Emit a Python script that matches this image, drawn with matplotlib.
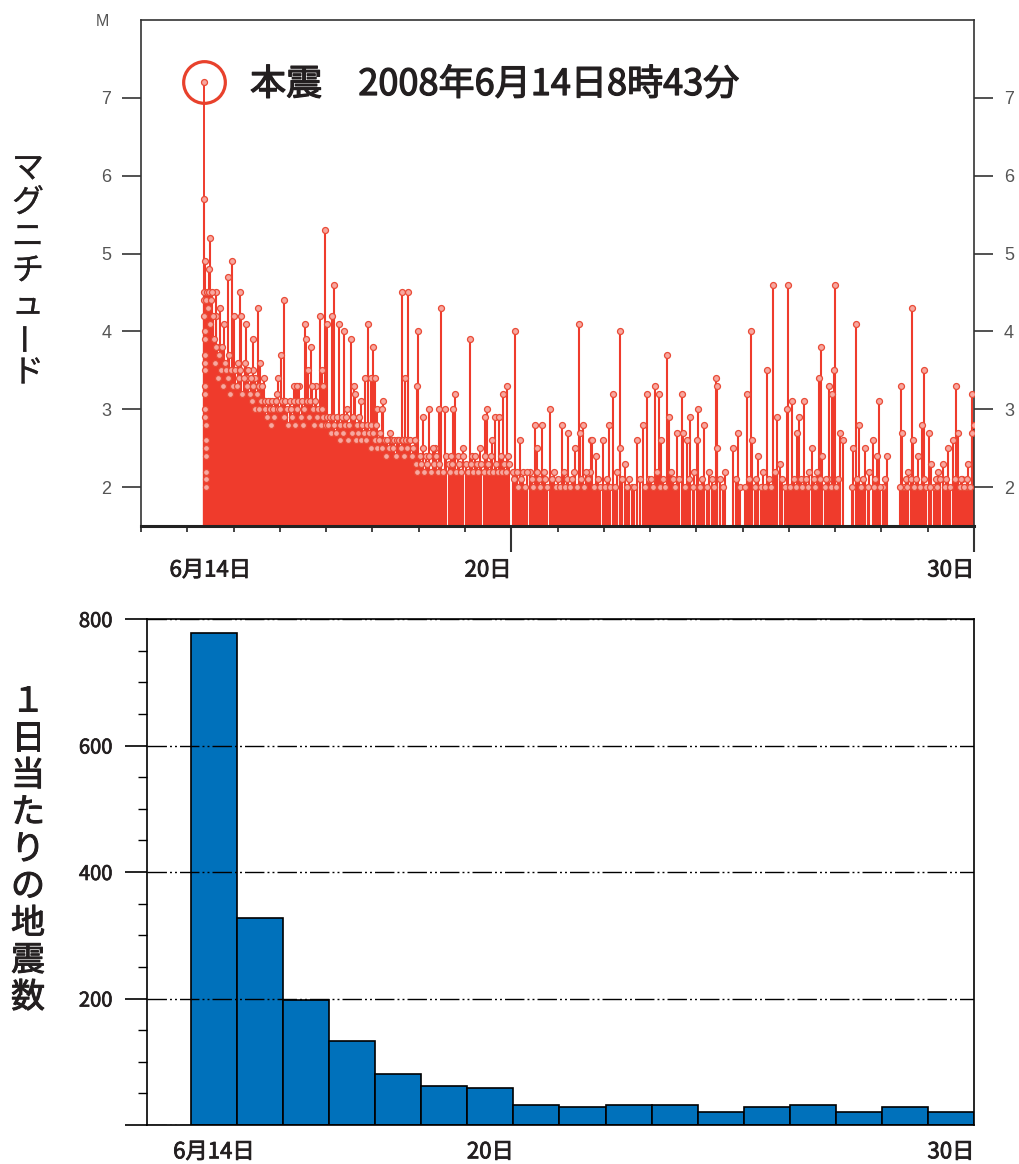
import matplotlib
matplotlib.use("Agg")
import matplotlib.pyplot as plt
import matplotlib.patheffects as pe
from matplotlib.ticker import MultipleLocator, FixedLocator, AutoMinorLocator
from matplotlib.transforms import blended_transform_factory

plt.rcParams['font.family'] = ['Noto Sans CJK JP', 'DejaVu Sans']

# mainshock: 2008-06-14 08:43, M7.2
main_day = 14 + (8 + 43 / 60) / 24
main_mag = 7.2

# aftershocks (day of June, magnitude)
peak_day = [
    14.366, 14.368, 14.371, 14.373, 14.376, 14.378, 14.381, 14.384, 14.386, 14.389,
    14.391, 14.393, 14.396, 14.398, 14.401, 14.403, 14.406, 14.408, 14.411,
    14.37, 14.375, 14.50, 14.48, 14.61, 14.65, 14.71, 14.80, 14.87, 14.97, 14.63,
    15.02, 15.13, 15.17, 15.26, 15.30, 15.41, 15.45, 15.52, 15.58, 15.65, 15.93, 15.95,
    15.42, 15.46, 15.67, 15.78, 15.89,
    16.03, 16.08, 16.36, 16.42, 16.55, 16.56, 16.60, 16.68, 16.86, 16.97, 16.31, 16.38,
    16.78, 16.69, 16.92, 16.93,
    17.03, 17.12, 17.16, 17.27, 17.38, 17.53, 17.61, 17.83, 17.90, 17.46, 17.76, 17.62,
    17.98,
    18.02, 18.24, 18.42, 18.55, 18.65, 18.76, 18.70, 18.91, 18.98, 18.97, 18.11, 18.20,
    18.05,
    19.09, 19.22, 19.35, 19.45, 19.48, 19.56, 19.78, 19.95, 19.74,
    20.10, 20.15, 20.32, 20.47, 20.58, 20.65, 20.73, 20.82, 20.90, 20.43,
    21.08, 21.19, 21.25, 21.40, 21.51, 21.66, 21.84, 21.55,
    22.10, 22.23, 22.38, 22.46, 22.55, 22.70, 22.72, 22.74, 22.83, 22.98, 22.49,
    23.11, 23.20, 23.35, 23.46, 23.61, 23.72, 23.85, 23.94, 23.36,
    24.11, 24.19, 24.24, 24.37, 24.41, 24.58, 24.69, 24.71, 24.80, 24.87,
    25.02, 25.04, 25.17, 25.43, 25.44, 25.45, 25.62, 25.80, 25.90, 25.95,
    26.10, 26.19, 26.21, 26.34, 26.53, 26.66, 26.75, 26.81, 26.96, 26.97,
    27.07, 27.18, 27.22, 27.33, 27.44, 27.51, 27.61, 27.64, 27.70, 27.72, 27.85, 27.87,
    27.94, 27.98, 27.99,
    28.11, 28.16, 28.39, 28.44, 28.52, 28.65, 28.81, 28.91, 28.94,
    29.03, 29.13, 29.43, 29.44, 29.48, 29.58, 29.67, 29.68, 29.80, 29.87, 29.93,
    30.02, 30.08, 30.13, 30.23, 30.32, 30.43, 30.54, 30.62, 30.65, 30.75, 30.82, 30.88,
    30.95, 30.96, 30.99,
]
peak_mag = [
    4.5, 4.4, 4.2, 4.0, 3.9, 3.7, 3.6, 3.5, 3.3, 3.2,
    3.0, 2.9, 2.8, 2.6, 2.5, 2.4, 2.2, 2.1, 2.0,
    5.7, 4.9, 5.2, 4.8, 4.5, 3.8, 4.3, 4.1, 4.7, 4.9, 4.2,
    4.2, 4.5, 4.2, 4.1, 3.4, 3.9, 3.3, 4.3, 3.6, 3.4, 3.2, 3.4,
    3.5, 3.4, 3.1, 3.1, 3.1,
    3.7, 4.4, 3.3, 3.3, 4.1, 3.9, 3.5, 3.8, 4.2, 5.3, 3.3, 3.3,
    3.3, 3.3, 3.5, 3.3,
    4.1, 4.2, 4.6, 4.1, 4.0, 3.9, 3.3, 3.4, 4.1, 3.0, 3.1, 3.2,
    3.4,
    3.8, 3.1, 2.6, 2.6, 4.5, 4.5, 3.4, 2.6, 4.0, 3.3, 3.0, 3.0,
    3.4,
    2.9, 3.0, 2.5, 3.0, 4.3, 3.0, 3.2, 2.5, 3.0,
    3.9, 2.4, 2.5, 3.0, 2.6, 2.9, 2.9, 3.2, 3.3, 2.9,
    4.0, 2.6, 2.2, 2.2, 2.8, 2.8, 3.0, 2.5,
    2.8, 2.7, 2.5, 4.1, 2.8, 2.2, 2.6, 2.6, 2.4, 2.6, 2.7,
    2.8, 3.2, 4.0, 2.3, 2.0, 2.6, 2.8, 3.2, 2.5,
    3.3, 3.2, 2.6, 3.7, 2.9, 2.7, 3.2, 2.7, 2.6, 2.9,
    2.6, 3.0, 2.8, 3.4, 3.3, 2.5, 2.2, 2.5, 2.7, 2.0,
    3.2, 4.0, 2.6, 2.4, 3.5, 4.6, 2.9, 2.3, 3.0, 4.6,
    3.1, 2.7, 2.9, 3.1, 2.2, 2.5, 2.2, 3.4, 3.8, 2.4, 2.1, 3.3,
    3.2, 3.5, 4.6,
    2.7, 2.6, 2.5, 4.1, 2.8, 2.5, 2.6, 2.4, 3.1,
    2.0, 2.4, 3.3, 2.7, 2.0, 2.2, 4.3, 2.6, 2.4, 2.8, 3.5,
    2.7, 2.3, 2.0, 2.2, 2.3, 2.5, 2.6, 3.3, 2.7, 2.1, 2.0, 2.3,
    3.2, 2.7, 2.8,
]

# small aftershocks that make up the dense red base
base_day = [
    14.41, 14.43, 14.45, 14.47, 14.49, 14.52, 14.54, 14.56, 14.58,
    14.60, 14.63, 14.67, 14.69, 14.73, 14.76, 14.78, 14.82, 14.84, 14.89, 14.91, 14.93,
    14.95, 14.99,
    15.04, 15.07, 15.09, 15.11, 15.15, 15.19, 15.22, 15.24, 15.28, 15.32, 15.35, 15.37,
    15.39, 15.43, 15.47, 15.50, 15.54, 15.56, 15.60, 15.62, 15.67, 15.69, 15.72, 15.75,
    15.78, 15.80, 15.83, 15.86, 15.88, 15.91, 15.97,
    16.01, 16.05, 16.10, 16.12, 16.15, 16.18, 16.21, 16.24, 16.27, 16.30, 16.33, 16.38,
    16.40, 16.45, 16.48, 16.50, 16.53, 16.58, 16.62, 16.65, 16.71, 16.74, 16.77, 16.80,
    16.83, 16.89, 16.92, 16.94, 16.99,
    17.01, 17.05, 17.08, 17.10, 17.14, 17.18, 17.21, 17.24, 17.29, 17.31, 17.34, 17.36,
    17.41, 17.44, 17.47, 17.50, 17.56, 17.58, 17.64, 17.66, 17.69, 17.72, 17.75, 17.78,
    17.81, 17.86, 17.88, 17.93, 17.96, 17.98,
    18.01, 18.05, 18.07, 18.11, 18.14, 18.17, 18.20, 18.27, 18.29, 18.32, 18.35, 18.38,
    18.44, 18.47, 18.50, 18.53, 18.58, 18.61, 18.63, 18.66, 18.69, 18.72, 18.75, 18.79,
    18.82, 18.85, 18.88, 18.91, 18.94, 18.97,
    19.03, 19.06, 19.09, 19.12, 19.16, 19.19, 19.23, 19.27, 19.30, 19.33, 19.37, 19.41,
    19.44, 19.52, 19.58, 19.65, 19.67, 19.70, 19.73, 19.81, 19.84, 19.88, 19.92, 19.96,
    20.02, 20.06, 20.13, 20.18, 20.21, 20.25, 20.28, 20.34, 20.41, 20.44, 20.50, 20.53,
    20.56, 20.61, 20.68, 20.71, 20.77, 20.80, 20.85, 20.88, 20.93, 20.96,
    21.03, 21.06, 21.12, 21.15, 21.22, 21.30, 21.34, 21.45, 21.48, 21.55, 21.59, 21.62,
    21.70, 21.74, 21.78, 21.88, 21.92, 21.96,
    22.02, 22.06, 22.13, 22.17, 22.20, 22.27, 22.31, 22.35, 22.42, 22.50, 22.58, 22.62,
    22.66, 22.79, 22.87, 22.92,
    23.03, 23.07, 23.14, 23.25, 23.29, 23.40, 23.50, 23.55, 23.66, 23.78, 23.90, 23.97,
    24.03, 24.07, 24.14, 24.22, 24.28, 24.33, 24.45, 24.50, 24.54, 24.63, 24.75, 24.84,
    24.92, 24.96,
    25.08, 25.12, 25.22, 25.27, 25.33, 25.38, 25.52, 25.57, 25.86,
    26.05, 26.14, 26.26, 26.30, 26.39, 26.44, 26.48, 26.58, 26.62, 26.70, 26.86, 26.91,
    27.03, 27.12, 27.15, 27.26, 27.29, 27.38, 27.41, 27.54, 27.57, 27.67, 27.77, 27.81,
    27.91,
    28.02, 28.06, 28.36, 28.47, 28.56, 28.60, 28.70, 28.74, 28.84, 28.87, 28.97,
    29.08, 29.40, 29.52, 29.56, 29.63, 29.71, 29.75, 29.84, 29.91, 29.97,
    30.05, 30.17, 30.20, 30.27, 30.37, 30.40, 30.48, 30.58, 30.69, 30.72, 30.79, 30.85,
    30.92,
]
base_mag = [
    4.4, 4.5, 4.3, 4.5, 4.1, 4.4, 4.5, 4.2, 3.9,
    3.6, 3.8, 3.4, 3.7, 3.5, 3.8, 3.3, 3.6, 3.5, 3.4, 3.7, 3.2,
    3.5, 3.3,
    3.5, 3.3, 3.6, 3.4, 3.5, 3.2, 3.4, 3.6, 3.3, 3.5, 3.2, 3.4,
    3.1, 3.3, 3.0, 3.2, 3.3, 3.0, 3.1, 3.3, 3.0, 3.1, 2.9, 3.1,
    3.0, 2.8, 3.1, 3.0, 2.9, 3.1, 3.0,
    3.0, 3.1, 2.9, 3.1, 3.0, 2.8, 3.1, 3.0, 2.9, 3.1, 2.8, 3.0,
    3.1, 2.9, 3.1, 2.8, 3.0, 3.1, 2.9, 3.1, 3.0, 2.8, 3.1, 2.9,
    3.0, 2.8, 3.0, 2.9, 2.8,
    2.9, 2.8, 2.9, 2.7, 2.9, 2.8, 2.7, 2.9, 2.8, 2.6, 2.9, 2.7,
    2.8, 2.9, 2.6, 2.8, 2.7, 2.9, 2.6, 2.8, 2.7, 2.9, 2.6, 2.8,
    2.7, 2.6, 2.8, 2.7, 2.5, 2.8,
    2.7, 2.6, 2.8, 2.5, 2.6, 2.7, 2.5, 2.6, 2.4, 2.6, 2.5, 2.7,
    2.5, 2.6, 2.4, 2.6, 2.6, 2.5, 2.6, 2.6, 2.4, 2.6, 2.5, 2.6,
    2.6, 2.4, 2.5, 2.6, 2.3, 2.2,
    2.4, 2.3, 2.5, 2.2, 2.4, 2.3, 2.4, 2.2, 2.5, 2.3, 2.4, 2.2,
    2.3, 2.2, 2.4, 2.3, 2.2, 2.4, 2.3, 2.2, 2.4, 2.3, 2.2, 2.4,
    2.3, 2.2, 2.3, 2.2, 2.4, 2.3, 2.2, 2.3, 2.2, 2.4, 2.3, 2.2,
    2.4, 2.2, 2.3, 2.2, 2.4, 2.2, 2.3, 2.2, 2.4, 2.3,
    2.2, 2.1, 2.2, 2.0, 2.1, 2.0, 2.2, 2.1, 2.0, 2.2, 2.1, 2.0,
    2.2, 2.1, 2.0, 2.1, 2.2, 2.0,
    2.1, 2.0, 2.2, 2.0, 2.1, 2.0, 2.1, 2.2, 2.0, 2.1, 2.0, 2.2,
    2.1, 2.0, 2.1, 2.0,
    2.0, 2.1, 2.0, 2.0, 2.2, 2.1, 2.0, 2.1, 2.0, 2.1, 2.0, 2.1,
    2.1, 2.0, 2.2, 2.0, 2.1, 2.0, 2.2, 2.1, 2.0, 2.1, 2.0, 2.1,
    2.0, 2.2,
    2.0, 2.1, 2.0, 2.2, 2.1, 2.0, 2.1, 2.0, 2.1,
    2.0, 2.1, 2.0, 2.1, 2.0, 2.2, 2.0, 2.1, 2.0, 2.2, 2.1, 2.0,
    2.0, 2.1, 2.0, 2.1, 2.0, 2.1, 2.0, 2.1, 2.0, 2.1, 2.0, 2.1,
    2.0,
    2.0, 2.1, 2.0, 2.1, 2.0, 2.1, 2.0, 2.2, 2.0, 2.1, 2.0,
    2.1, 2.0, 2.1, 2.0, 2.1, 2.0, 2.1, 2.0, 2.1, 2.0,
    2.0, 2.1, 2.0, 2.1, 2.0, 2.1, 2.0, 2.1, 2.0, 2.1, 2.0, 2.1,
    2.0,
]

# number of earthquakes per day, lower panel
count_day = [14, 15, 16, 17, 18, 19, 20, 21, 22, 23, 24, 25, 26, 27, 28, 29, 30]
count_num = [778, 327, 197, 133, 80, 61, 58, 32, 29, 31, 32, 21, 29, 32, 20, 28, 20]

day_labels = ["6月14日", "20日", "30日"]
day_label_pos = [14.5, 20.5, 30.5]

title_text = "本震\u30002008年6月14日8時43分"
mag_label = "マグニチュード"
count_label = "１日当たりの地震数"

red = "#ef3b2c"
blue = "#0071bb"
dark = "#231f20"
grey = "#555555"


def thick(w):
    # fake a semibold weight by stroking the glyph outline
    return [pe.withStroke(linewidth=w, foreground=dark)]


W, H = 1019, 1164
fig = plt.figure(figsize=(W / 100, H / 100), dpi=100)

# ---------- upper panel: magnitude vs time ----------
ax1 = fig.add_axes([141 / W, 1 - 526 / H, 833 / W, 506 / H])
days = peak_day + base_day
mags = peak_mag + base_mag
ax1.vlines(days, 1.0, mags, color=red, lw=1.5, zorder=2)
ax1.plot(days, mags, "o", ls="none", ms=4.3, mfc="#f7a8a0", mec="#ea4a36",
         mew=0.9, zorder=3)
ax1.vlines([main_day], 1.0, [main_mag], color=red, lw=1.4, zorder=2)
ax1.plot([main_day], [main_mag], "o", ms=4.3, mfc="#f7a8a0", mec="#ea4a36",
         mew=0.9, zorder=3)
# red ring around the mainshock
ax1.plot([main_day], [main_mag], "o", ms=30, mfc="none", mec="#e8412c",
         mew=2.3, zorder=4, clip_on=False)

ax1.set_xlim(13, 31)
ax1.set_ylim(1.5, 8)
ax1.xaxis.set_major_locator(FixedLocator([21, 31]))
ax1.xaxis.set_minor_locator(MultipleLocator(1))
ax1.set_xticklabels([])
ax1.tick_params(axis="x", which="major", direction="out", length=19, width=1.5,
                color="#333333")
ax1.tick_params(axis="x", which="minor", direction="out", length=4.5, width=1.3,
                color="#333333")
ax1.set_yticks([2, 3, 4, 5, 6, 7])
ax1.tick_params(axis="y", which="major", direction="out", length=13.5, width=1.2,
                color="#333333", left=True, right=True, labelleft=True,
                labelright=True, pad=8, labelsize=13, labelcolor=grey)
for lab in ax1.get_yticklabels():
    lab.set_family(["Liberation Sans", "DejaVu Sans"])
for side in ["left", "right", "top"]:
    ax1.spines[side].set_color("#333333")
    ax1.spines[side].set_linewidth(1.2)
ax1.spines["bottom"].set_color("#222222")
ax1.spines["bottom"].set_linewidth(2.2)

tr1 = blended_transform_factory(ax1.transData, ax1.transAxes)
for pos, lab in zip(day_label_pos, day_labels):
    ax1.text(pos, -0.087, lab, transform=tr1, ha="center", va="center",
             fontsize=16, color=dark, path_effects=thick(0.6))

fig.text(102 / W, 1 - 21 / H, "M", ha="center", va="center", fontsize=11.5,
         color=grey, family=["Liberation Sans", "DejaVu Sans"])
fig.text(250 / W, 1 - 85 / H, title_text, ha="left", va="center",
         fontsize=26, color=dark, path_effects=thick(0.9))

# ---------- lower panel: daily counts ----------
ax2 = fig.add_axes([147 / W, 1 - 1125 / H, 827 / W, 506 / H])
ax2.bar(count_day, count_num, width=1, align="edge", color=blue,
        edgecolor="black", lw=1.2, zorder=1)
ax2.set_xlim(13.045, 31)
ax2.set_ylim(0, 800)
ax2.set_xticks([])
ax2.yaxis.set_major_locator(MultipleLocator(200))
ax2.yaxis.set_minor_locator(AutoMinorLocator(4))
ax2.set_yticks([0, 200, 400, 600, 800])
ax2.set_yticklabels(["", "200", "400", "600", "800"])
ax2.tick_params(axis="y", which="major", direction="out", length=16, width=1.2,
                color="black", pad=9, labelsize=14.5, labelcolor=dark)
ax2.tick_params(axis="y", which="minor", direction="out", length=6.5, width=1.0,
                color="black")
for lab in ax2.get_yticklabels():
    lab.set_path_effects(thick(0.5))
ax2.set_axisbelow(False)
ax2.grid(axis="y", which="major", color="black", lw=1.0,
         linestyle=(0, (14, 2.2, 1.4, 2.2, 1.4, 2.2)))
for side in ["left", "right", "top", "bottom"]:
    ax2.spines[side].set_color("black")
    ax2.spines[side].set_linewidth(1.2)

tr2 = blended_transform_factory(ax2.transData, ax2.transAxes)
for pos, lab in zip(day_label_pos, day_labels):
    ax2.text(pos, -0.053, lab, transform=tr2, ha="center", va="center",
             fontsize=16, color=dark, path_effects=thick(0.6))

# ---------- vertical axis titles, one character per line ----------
def vertical_label(text, x_px, y0_px, step_px, size, stroke):
    for i, ch in enumerate(text):
        rot = 90 if ch == "ー" else 0
        fig.text(x_px / W, 1 - (y0_px + i * step_px) / H, ch, ha="center",
                 va="center", fontsize=size, color=dark, rotation=rot,
                 path_effects=thick(stroke))

vertical_label(mag_label, 28, 169, 34, 23, 0.2)
vertical_label(count_label, 28, 702, 37, 24.5, 0.7)

fig.savefig("out.png", dpi=100)
